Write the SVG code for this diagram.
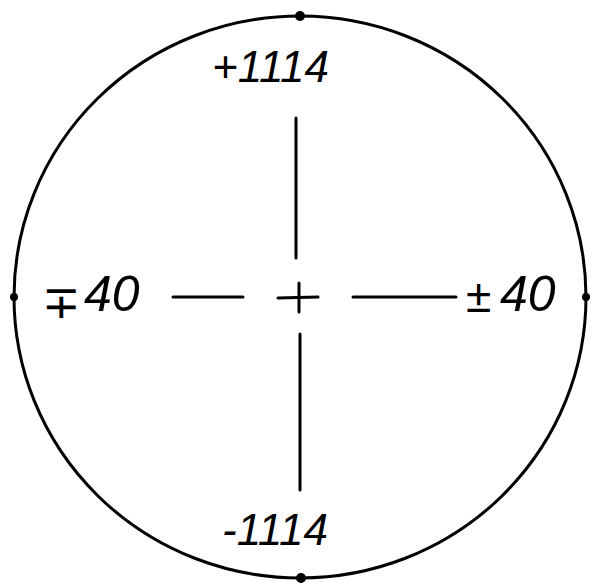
<svg xmlns="http://www.w3.org/2000/svg" width="594" height="586" viewBox="0 0 594 586">
<style>
.ln{stroke:#000;stroke-width:3;stroke-linecap:round;fill:none}
.t{font-family:"Liberation Sans",Arial,sans-serif;font-style:italic;font-size:44px;fill:#000}
.n{font-family:"Liberation Sans",Arial,sans-serif;font-style:italic;font-size:50px;fill:#000}
.s{font-family:"Liberation Sans",Arial,sans-serif;font-size:46px;fill:#000}
</style>
<rect width="594" height="586" fill="#fff"/>
<g id="circle">
<ellipse cx="300" cy="297" rx="286" ry="281" class="ln"/>
<circle cx="300" cy="16" r="5"/>
<circle cx="301" cy="578" r="5"/>
<circle cx="14" cy="297" r="4"/>
<circle cx="586" cy="297" r="4"/>
</g>
<g id="connectors">
<line x1="296" y1="118" x2="296" y2="258" class="ln"/>
<line x1="300" y1="334" x2="300" y2="490" class="ln"/>
<line x1="173" y1="297" x2="243" y2="297" class="ln"/>
<line x1="353" y1="297" x2="456" y2="297" class="ln"/>
</g>
<g id="center">
<line x1="278" y1="298" x2="318" y2="297" class="ln" stroke-width="5"/>
<line x1="299" y1="283" x2="299" y2="312" class="ln" stroke-width="5"/>
</g>
<g id="top-label"><text x="212" y="82" class="t">+1114</text></g>
<g id="bottom-label"><text x="222" y="545" class="t">-1114</text></g>
<g id="left-label"><text x="42" y="318" class="s">∓</text><text x="84" y="311" class="n">40</text></g>
<g id="right-label"><text x="466" y="312" class="s">±</text><text x="500" y="311" class="n">40</text></g>
</svg>
